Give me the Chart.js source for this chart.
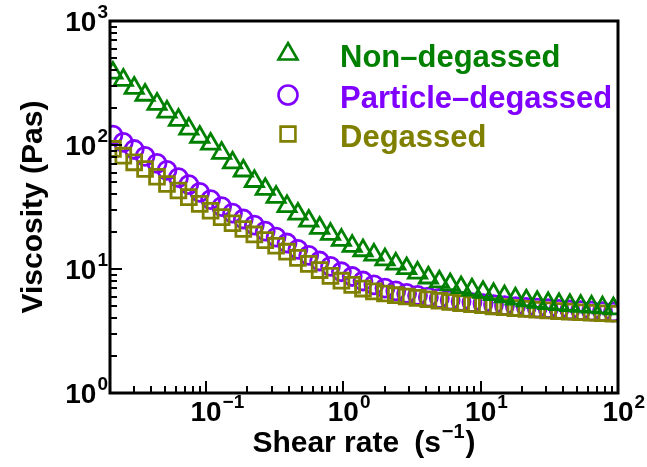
<!DOCTYPE html>
<html><head><meta charset="utf-8">
<script src="https://cdn.jsdelivr.net/npm/chart.js@4/dist/chart.umd.min.js"></script>
<style>html,body{margin:0;padding:0;background:#fff}#wrap{width:647px;height:467px;position:relative}</style>
</head><body><div id="wrap"><canvas id="c" width="647" height="467"></canvas></div>
<script>
// ---- data ----
const shearRate = [0.021, 0.025, 0.030, 0.036, 0.044, 0.052, 0.063, 0.075, 0.090, 0.108,
  0.130, 0.156, 0.187, 0.225, 0.270, 0.324, 0.389, 0.467, 0.560, 0.672,
  0.806, 0.968, 1.16, 1.39, 1.67, 2.01, 2.41, 2.89, 3.47, 4.16,
  5.00, 6.00, 7.20, 8.64, 10.4, 12.4, 14.9, 17.9, 21.5, 25.8,
  31.0, 37.2, 44.6, 53.5, 64.2, 77.1, 92.5];
const nonDegassed = [381, 334, 288, 253, 214, 185, 159, 135, 116, 102,
  86, 72, 62, 51, 44, 38, 32, 27.8, 24.4, 21.4,
  19.1, 17.1, 15.3, 14.1, 13.0, 11.9, 11.0, 10.1, 9.3, 8.5,
  7.9, 7.5, 7.1, 6.8, 6.5, 6.25, 6.0, 5.75, 5.55, 5.4,
  5.28, 5.18, 5.1, 5.02, 4.95, 4.88, 4.8];
const particleDegassed = [120, 105, 92, 81, 71, 62.5, 54.5, 48, 41.5, 36.3,
  31.8, 28.2, 25.3, 22.6, 20.2, 18.1, 16.2, 14.4, 12.9, 11.6,
  10.5, 9.5, 8.7, 8.0, 7.45, 7.0, 6.65, 6.35, 6.12, 5.93,
  5.78, 5.62, 5.48, 5.36, 5.25, 5.15, 5.06, 4.98, 4.91, 4.84,
  4.78, 4.72, 4.67, 4.62, 4.58, 4.54, 4.5];
const degassed = [93, 82, 72.5, 64, 55.5, 48.5, 43, 38, 33.5, 29.5,
  26.2, 23.4, 21.0, 19.0, 17.1, 15.4, 13.8, 12.3, 11.0, 9.8,
  8.8, 8.05, 7.45, 6.95, 6.6, 6.35, 6.15, 6.0, 5.85, 5.7,
  5.55, 5.42, 5.3, 5.2, 5.1, 5.0, 4.92, 4.84, 4.77, 4.7,
  4.64, 4.58, 4.53, 4.48, 4.44, 4.4, 4.36];
const seriesNames = ['Non\u2013degassed', 'Particle\u2013degassed', 'Degassed'];
const seriesColors = ['#008000', '#8000FF', '#808000'];
const seriesShapes = ['triangle', 'circle', 'rect'];
const xMajorTicks = [0.1, 1, 10, 100];
const xTickLabels = [['10', '\u22121'], ['10', '0'], ['10', '1'], ['10', '2']];
const yMajorTicks = [1, 10, 100, 1000];
const yTickLabels = [['10', '0'], ['10', '1'], ['10', '2'], ['10', '3']];
const xTitle = ['Shear rate\u2002(s', '\u22121', ')'];
const yTitle = 'Viscosity (Pas)';

const FONT = '"Liberation Sans", Arial, sans-serif';

function pts(ys) { return shearRate.map((x, i) => ({x: x, y: ys[i]})); }

function drawShape(ctx, shape, x, y, r) {
  ctx.beginPath();
  if (shape === 'triangle') {
    for (let k = 0; k < 3; k++) {
      const a = k * 2 * Math.PI / 3;
      const px = x + Math.sin(a) * r, py = y - Math.cos(a) * r;
      if (k === 0) ctx.moveTo(px, py); else ctx.lineTo(px, py);
    }
    ctx.closePath();
  } else if (shape === 'circle') {
    ctx.arc(x, y, r, 0, Math.PI * 2);
  } else {
    const s = Math.SQRT1_2 * r;
    ctx.rect(x - s, y - s, 2 * s, 2 * s);
  }
  ctx.stroke();
}

const deco = {
  id: 'deco',
  afterDatasetsDraw(chart) {
    const {ctx, chartArea: a, scales: {x, y}} = chart;
    ctx.save();
    ctx.strokeStyle = '#000';
    ctx.lineWidth = 2;
    // x ticks (inward)
    for (let e = -2; e <= 1; e++) {
      for (let k = 1; k <= 9; k++) {
        const v = k * Math.pow(10, e);
        if (v < x.min * 0.999 || v > x.max * 1.001) continue;
        const px = Math.round(x.getPixelForValue(v));
        const len = k === 1 ? 12 : 7;
        ctx.beginPath(); ctx.moveTo(px, a.bottom); ctx.lineTo(px, a.bottom - len); ctx.stroke();
      }
    }
    // y ticks (inward)
    for (let e = 0; e <= 2; e++) {
      for (let k = 1; k <= 9; k++) {
        const v = k * Math.pow(10, e);
        if (v < y.min * 0.999 || v > y.max * 1.001) continue;
        const py = Math.round(y.getPixelForValue(v));
        const len = k === 1 ? 12 : 7;
        ctx.beginPath(); ctx.moveTo(a.left, py); ctx.lineTo(a.left + len, py); ctx.stroke();
      }
    }
    // frame
    ctx.lineWidth = 3;
    ctx.strokeRect(a.left, a.top, a.right - a.left, a.bottom - a.top);

    // tick labels
    ctx.fillStyle = '#000';
    ctx.textBaseline = 'alphabetic';
    ctx.textAlign = 'left';
    const big = 'bold 28px ' + FONT, small = 'bold 19px ' + FONT;
    xMajorTicks.forEach((v, i) => {
      const px = x.getPixelForValue(v);
      ctx.font = big; const w1 = ctx.measureText(xTickLabels[i][0]).width;
      const s = px - w1 / 2;
      ctx.fillText(xTickLabels[i][0], s, 421);
      ctx.font = small; ctx.fillText(xTickLabels[i][1], s + w1 + 1, 408);
    });
    yMajorTicks.forEach((v, i) => {
      const py = y.getPixelForValue(v);
      ctx.font = small; const w2 = ctx.measureText(yTickLabels[i][1]).width;
      ctx.font = big; const w1 = ctx.measureText(yTickLabels[i][0]).width;
      const right = a.left - 2;
      ctx.font = big; ctx.fillText(yTickLabels[i][0], right - w2 - w1 - 1, py + 10);
      ctx.font = small; ctx.fillText(yTickLabels[i][1], right - w2, py - 3);
    });

    // axis titles
    const tf = 'bold 30px ' + FONT, tfs = 'bold 20px ' + FONT;
    ctx.font = tf; const t1 = ctx.measureText(xTitle[0]).width;
    ctx.font = tfs; const t2 = ctx.measureText(xTitle[1]).width;
    ctx.font = tf; const t3 = ctx.measureText(xTitle[2]).width;
    const cx = (a.left + a.right) / 2;
    let sx = cx - (t1 + t2 + t3 + 2) / 2;
    ctx.font = tf; ctx.fillText(xTitle[0], sx, 452);
    ctx.font = tfs; ctx.fillText(xTitle[1], sx + t1 + 1, 438);
    ctx.font = tf; ctx.fillText(xTitle[2], sx + t1 + t2 + 2, 452);

    ctx.save();
    ctx.translate(42, (a.top + a.bottom) / 2);
    ctx.rotate(-Math.PI / 2);
    ctx.textAlign = 'center';
    ctx.font = tf;
    ctx.fillText(yTitle, 0, 0);
    ctx.restore();

    // legend
    const legY = [54, 95, 134];
    const legText = [67, 108, 147];
    const legR = [11, 9.5, 10.5];
    seriesNames.forEach((n, i) => {
      ctx.strokeStyle = seriesColors[i];
      ctx.lineWidth = 2.6;
      drawShape(ctx, seriesShapes[i], 288, legY[i], legR[i]);
      ctx.fillStyle = seriesColors[i];
      ctx.font = 'bold 31px ' + FONT;
      ctx.textAlign = 'left';
      ctx.fillText(n, 340, legText[i]);
    });
    ctx.restore();
  }
};

const mk = (i, data, r, order) => ({
  label: seriesNames[i], data: pts(data), showLine: false,
  pointStyle: seriesShapes[i], pointRadius: r, pointHoverRadius: r,
  pointBorderWidth: 2.8, borderColor: seriesColors[i],
  backgroundColor: 'rgba(0,0,0,0)', pointBackgroundColor: 'rgba(0,0,0,0)',
  clip: 0, order: order
});

new Chart(document.getElementById('c'), {
  type: 'scatter',
  data: { datasets: [
    mk(0, nonDegassed, 10.5, 0),
    mk(1, particleDegassed, 9, 2),
    mk(2, degassed, 10.5, 1)
  ]},
  options: {
    responsive: false, animation: false, devicePixelRatio: 1,
    layout: { padding: { top: 21, right: 29, left: 0, bottom: 0 } },
    plugins: { legend: { display: false }, tooltip: { enabled: false } },
    scales: {
      x: { type: 'logarithmic', min: 0.02, max: 100,
           ticks: { display: false }, grid: { display: false }, border: { display: false },
           afterFit: s => { s.height = 74; } },
      y: { type: 'logarithmic', min: 1, max: 1000,
           ticks: { display: false }, grid: { display: false }, border: { display: false },
           afterFit: s => { s.width = 110; } }
    }
  },
  plugins: [deco]
});
</script></body></html>
